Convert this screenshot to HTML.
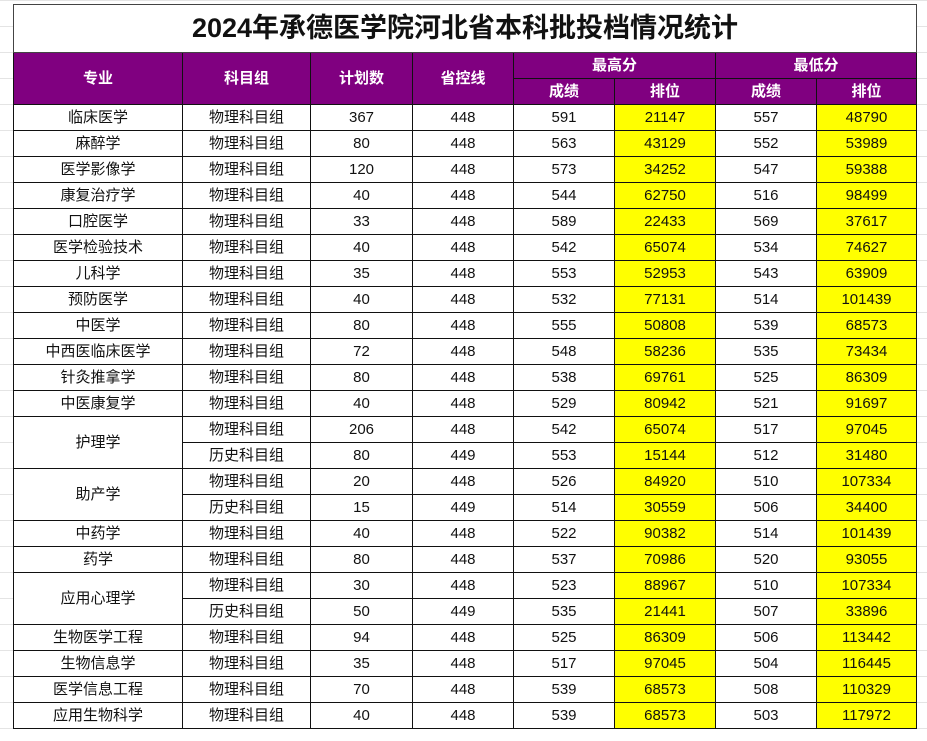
<!DOCTYPE html>
<html><head><meta charset="utf-8"><style>
body{margin:0;width:927px;height:741px;background:#fff;position:relative;overflow:hidden;
background-image:linear-gradient(#e4e4e4 1px,transparent 1px);background-size:100% 26px;background-position:0 0;}
table{position:absolute;left:13px;top:4px;border-collapse:collapse;table-layout:fixed;background:#fff;
font-family:"Liberation Sans","Noto Sans CJK SC",sans-serif;font-size:15px;color:#111}
td{border:1.5px solid #111;text-align:center;vertical-align:middle;padding:0;height:25px;line-height:25px;white-space:nowrap;overflow:hidden}
.t td{height:47px;font-size:27px;font-weight:bold;border-color:#444}
.h td{background:#800080;color:#fff;font-weight:bold}
.y{background:#ffff00}
</style></head><body>
<table>
<colgroup><col style="width:169px"><col style="width:128px"><col style="width:102px"><col style="width:101px"><col style="width:101px"><col style="width:101px"><col style="width:101px"><col style="width:100px"></colgroup>
<tr class="t"><td colspan="8">2024年承德医学院河北省本科批投档情况统计</td></tr>
<tr class="h"><td rowspan="2">专业</td><td rowspan="2">科目组</td><td rowspan="2">计划数</td><td rowspan="2">省控线</td><td colspan="2">最高分</td><td colspan="2">最低分</td></tr>
<tr class="h"><td>成绩</td><td>排位</td><td>成绩</td><td>排位</td></tr>
<tr><td>临床医学</td><td>物理科目组</td><td>367</td><td>448</td><td>591</td><td class="y">21147</td><td>557</td><td class="y">48790</td></tr>
<tr><td>麻醉学</td><td>物理科目组</td><td>80</td><td>448</td><td>563</td><td class="y">43129</td><td>552</td><td class="y">53989</td></tr>
<tr><td>医学影像学</td><td>物理科目组</td><td>120</td><td>448</td><td>573</td><td class="y">34252</td><td>547</td><td class="y">59388</td></tr>
<tr><td>康复治疗学</td><td>物理科目组</td><td>40</td><td>448</td><td>544</td><td class="y">62750</td><td>516</td><td class="y">98499</td></tr>
<tr><td>口腔医学</td><td>物理科目组</td><td>33</td><td>448</td><td>589</td><td class="y">22433</td><td>569</td><td class="y">37617</td></tr>
<tr><td>医学检验技术</td><td>物理科目组</td><td>40</td><td>448</td><td>542</td><td class="y">65074</td><td>534</td><td class="y">74627</td></tr>
<tr><td>儿科学</td><td>物理科目组</td><td>35</td><td>448</td><td>553</td><td class="y">52953</td><td>543</td><td class="y">63909</td></tr>
<tr><td>预防医学</td><td>物理科目组</td><td>40</td><td>448</td><td>532</td><td class="y">77131</td><td>514</td><td class="y">101439</td></tr>
<tr><td>中医学</td><td>物理科目组</td><td>80</td><td>448</td><td>555</td><td class="y">50808</td><td>539</td><td class="y">68573</td></tr>
<tr><td>中西医临床医学</td><td>物理科目组</td><td>72</td><td>448</td><td>548</td><td class="y">58236</td><td>535</td><td class="y">73434</td></tr>
<tr><td>针灸推拿学</td><td>物理科目组</td><td>80</td><td>448</td><td>538</td><td class="y">69761</td><td>525</td><td class="y">86309</td></tr>
<tr><td>中医康复学</td><td>物理科目组</td><td>40</td><td>448</td><td>529</td><td class="y">80942</td><td>521</td><td class="y">91697</td></tr>
<tr><td rowspan="2">护理学</td><td>物理科目组</td><td>206</td><td>448</td><td>542</td><td class="y">65074</td><td>517</td><td class="y">97045</td></tr>
<tr><td>历史科目组</td><td>80</td><td>449</td><td>553</td><td class="y">15144</td><td>512</td><td class="y">31480</td></tr>
<tr><td rowspan="2">助产学</td><td>物理科目组</td><td>20</td><td>448</td><td>526</td><td class="y">84920</td><td>510</td><td class="y">107334</td></tr>
<tr><td>历史科目组</td><td>15</td><td>449</td><td>514</td><td class="y">30559</td><td>506</td><td class="y">34400</td></tr>
<tr><td>中药学</td><td>物理科目组</td><td>40</td><td>448</td><td>522</td><td class="y">90382</td><td>514</td><td class="y">101439</td></tr>
<tr><td>药学</td><td>物理科目组</td><td>80</td><td>448</td><td>537</td><td class="y">70986</td><td>520</td><td class="y">93055</td></tr>
<tr><td rowspan="2">应用心理学</td><td>物理科目组</td><td>30</td><td>448</td><td>523</td><td class="y">88967</td><td>510</td><td class="y">107334</td></tr>
<tr><td>历史科目组</td><td>50</td><td>449</td><td>535</td><td class="y">21441</td><td>507</td><td class="y">33896</td></tr>
<tr><td>生物医学工程</td><td>物理科目组</td><td>94</td><td>448</td><td>525</td><td class="y">86309</td><td>506</td><td class="y">113442</td></tr>
<tr><td>生物信息学</td><td>物理科目组</td><td>35</td><td>448</td><td>517</td><td class="y">97045</td><td>504</td><td class="y">116445</td></tr>
<tr><td>医学信息工程</td><td>物理科目组</td><td>70</td><td>448</td><td>539</td><td class="y">68573</td><td>508</td><td class="y">110329</td></tr>
<tr><td>应用生物科学</td><td>物理科目组</td><td>40</td><td>448</td><td>539</td><td class="y">68573</td><td>503</td><td class="y">117972</td></tr>
</table>
</body></html>
